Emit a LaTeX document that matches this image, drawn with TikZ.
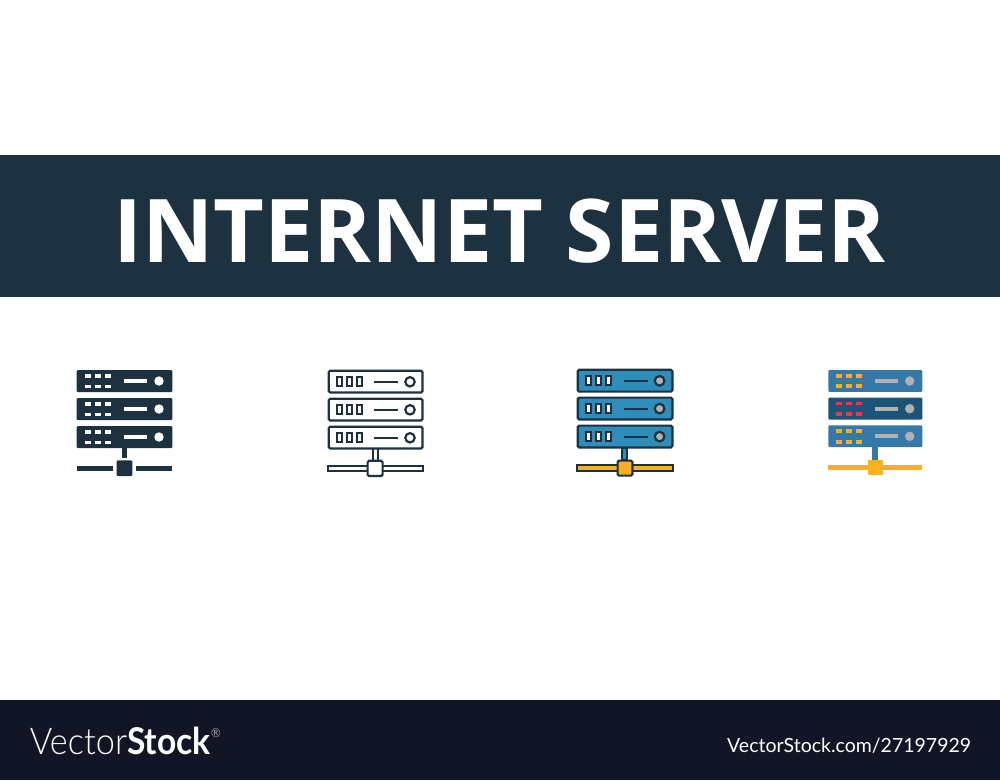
\documentclass[tikz,border=0pt]{standalone}
\usepackage{fontspec}
\setmainfont{Open Sans}
\newfontfamily\logolight[FakeStretch=0.93]{Lato Light}
\newfontfamily\logobold[FakeStretch=0.91]{Lato Bold}
\newfontfamily\stockfont{Lato}
\definecolor{navy}{HTML}{1C3240}
\definecolor{footer}{HTML}{111526}
\definecolor{rackblue}{HTML}{2E8DBB}
\definecolor{flatblue}{HTML}{3579A8}
\definecolor{flatdark}{HTML}{1C5478}
\definecolor{amber}{HTML}{FBB01F}
\definecolor{alert}{HTML}{EE3A3A}
\definecolor{ledgrey}{HTML}{B3B1B0}
\tikzset{
  band/.style={fill=#1, draw=none},
  solid part/.style={fill=#1, draw=none, rounded corners=0.6},
  outlined/.style={draw=navy, line width=1.25pt, rounded corners=0.8, fill=#1},
  outlined/.default=white,
  slot/.style={draw=navy, line width=1.15pt, fill=#1},
  slot/.default=white,
}
\begin{document}
\begin{tikzpicture}[x=0.2mm,y=-0.2mm]
  \useasboundingbox (0,0) rectangle (1000,780);
  \path[band=navy] (0,155) rectangle (1000,297);
  \path[band=footer] (0,700) rectangle (1000,780);

  \node[anchor=base, inner sep=0pt, text=white, font=\fontsize{50}{58}\selectfont\bfseries] (title) at (499.5,262) {INTERNET SERVER};

  % solid icon
  \foreach \y in {370,398,426} {
    \path[solid part=navy] (76.7,\y) rectangle (172.3,\y+22);
    \foreach \x in {85,95,105} {
      \path[band=white] (\x,\y+4) rectangle (\x+6.4,\y+7.5);
      \path[band=white] (\x,\y+14.5) rectangle (\x+6.4,\y+18);
    }
    \path[band=white] (124.3,\y+9.2) rectangle (147.3,\y+13);
    \path[band=white] (159,\y+11) circle (4.7);
  }
  \path[band=navy] (121.7,448) rectangle (127.3,458);
  \path[solid part=navy] (116.7,460.3) rectangle (132.3,476);
  \path[band=navy] (76.7,466) rectangle (113.3,471);
  \path[band=navy] (135.7,466) rectangle (172.3,471);

  % outline icon
  \foreach \y in {370.8,398.8,426.8} {
    \path[outlined] (328.7,\y) rectangle (422.5,\y+21.6);
    \foreach \x in {337,347,357} {
      \path[slot] (\x,\y+6.5) rectangle (\x+5,\y+15);
    }
    \draw[navy, line width=1.25pt] (374,\y+11) -- (398.3,\y+11);
    \path[outlined] (410,\y+11) circle (4.7);
  }
  \draw[navy, line width=1.25pt] (372.6,448.4) -- (372.6,460) (377.6,448.4) -- (377.6,460);
  \path[slot] (328.4,465.8) rectangle (422.8,471);
  \path[outlined] (367.6,460.8) rectangle (382.6,476);

  % filled icon
  \foreach \y in {369.8,397.6,425.6} {
    \path[outlined=rackblue] (577.7,\y) rectangle (672.4,\y+21.8);
    \foreach \x in {586,596,606} {
      \path[slot] (\x,\y+6.5) rectangle (\x+5,\y+15);
    }
    \draw[navy, line width=1.25pt] (623.6,\y+11) -- (648,\y+11);
    \path[outlined=ledgrey] (659.6,\y+11) circle (4.8);
  }
  \path[slot=rackblue] (622,447.6) rectangle (627.4,460);
  \path[slot=amber] (577.4,465) rectangle (672.7,470.8);
  \path[outlined=amber] (617.6,460.6) rectangle (632.4,475.6);

  % flat icon
  \foreach \y/\rackfill/\ledfill in {370/flatblue/amber,397.7/flatdark/alert,425.3/flatblue/amber} {
    \path[solid part=\rackfill] (828.3,\y) rectangle (922.3,\y+21.8);
    \foreach \x in {836,846,856} {
      \path[band=\ledfill] (\x,\y+4) rectangle (\x+6.2,\y+7.6);
      \path[band=\ledfill] (\x,\y+14.3) rectangle (\x+6.2,\y+18.3);
    }
    \path[band=ledgrey] (875.3,\y+9) rectangle (897.7,\y+13);
    \path[band=ledgrey] (909.7,\y+11) circle (4.7);
  }
  \path[band=flatblue] (872.3,447) rectangle (878.3,461);
  \path[band=amber] (828.3,464.7) rectangle (922.3,470);
  \path[band=amber] (867.7,460) rectangle (883,475);

  % footer texts
  \node[anchor=base west, inner sep=0pt, text=white, font=\fontsize{21}{24}\selectfont] (logo) at (29.5,754)
    {{\logolight Vector}{\logobold Stock}};
  \node[anchor=base west, inner sep=0pt, text=white, font=\fontsize{7}{8}\selectfont\logolight] (mark) at (logo.base east)
    {\raisebox{9.5pt}{\textregistered}};
  \node[anchor=base east, inner sep=0pt, text=white, font=\fontsize{11.1}{13}\selectfont\stockfont] (stock) at (971.5,752)
    {VectorStock.com/27197929};
\end{tikzpicture}
\end{document}
